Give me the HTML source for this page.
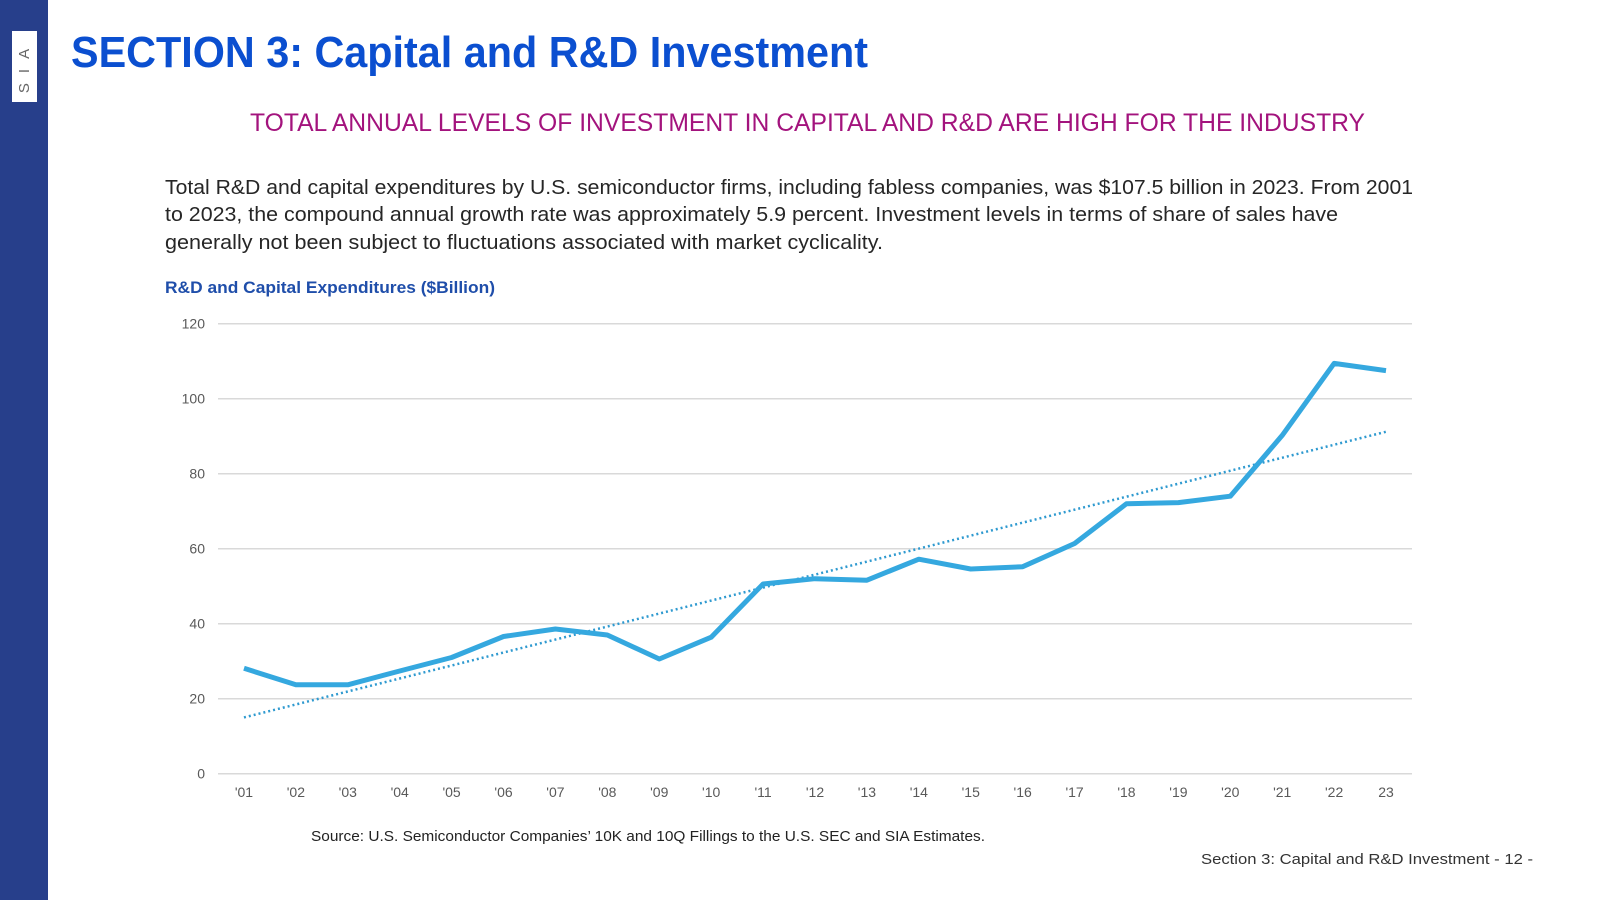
<!DOCTYPE html>
<html><head><meta charset="utf-8"><style>
html,body{margin:0;padding:0;background:#fff;}
svg{display:block;font-family:"Liberation Sans",sans-serif;}
</style></head><body>
<svg id="page" width="1600" height="900" viewBox="0 0 1600 900">
  <rect x="0" y="0" width="48" height="900" fill="#273f8b"/>
  <g>
    <rect x="12" y="31" width="25" height="71" fill="#fff"/>
    <text transform="translate(29,66) rotate(-90)" text-anchor="middle" font-size="15" fill="#666" letter-spacing="10">SIA</text>
  </g>
  <text x="71" y="67" font-size="44" font-weight="bold" fill="#0b4fd0" textLength="797" lengthAdjust="spacingAndGlyphs">SECTION 3: Capital and R&amp;D Investment</text>
  <text x="250" y="131" font-size="25" fill="#a3137d" textLength="1115" lengthAdjust="spacingAndGlyphs">TOTAL ANNUAL LEVELS OF INVESTMENT IN CAPITAL AND R&amp;D ARE HIGH FOR THE INDUSTRY</text>
  <g font-size="20" fill="#262626">
    <text x="165" y="194" textLength="1248" lengthAdjust="spacingAndGlyphs">Total R&amp;D and capital expenditures by U.S. semiconductor firms, including fabless companies, was $107.5 billion in 2023. From 2001</text>
    <text x="165" y="221" textLength="1173" lengthAdjust="spacingAndGlyphs">to 2023, the compound annual growth rate was approximately 5.9 percent. Investment levels in terms of share of sales have</text>
    <text x="165" y="249" textLength="718" lengthAdjust="spacingAndGlyphs">generally not been subject to fluctuations associated with market cyclicality.</text>
  </g>
  <text x="165" y="293" font-size="17" font-weight="bold" fill="#1f4eaa" textLength="330" lengthAdjust="spacingAndGlyphs">R&amp;D and Capital Expenditures ($Billion)</text>
  <g id="chart"></g>
  <text x="311" y="841" font-size="15" fill="#222" textLength="674" lengthAdjust="spacingAndGlyphs">Source: U.S. Semiconductor Companies’ 10K and 10Q Fillings to the U.S. SEC and SIA Estimates.</text>
  <text x="1201" y="864" font-size="15" fill="#333" textLength="332" lengthAdjust="spacingAndGlyphs">Section 3: Capital and R&amp;D Investment  - 12 -</text>
</svg>
<script>
const categories = ["'01","'02","'03","'04","'05","'06","'07","'08","'09","'10","'11","'12","'13","'14","'15","'16","'17","'18","'19","'20","'21","'22","23"];
const values = [28.1,23.7,23.7,27.4,31.0,36.6,38.6,37.0,30.6,36.4,50.6,52.0,51.6,57.2,54.6,55.2,61.4,72.0,72.3,74.0,90.2,109.4,107.5];
const yTicks = [0,20,40,60,80,100,120];

const NS = "http://www.w3.org/2000/svg";
const g = document.getElementById('chart');
const L = 218, R = 1412, T = 323.7, B = 773.7, yMax = 120;
const band = (R - L) / categories.length;
function xPos(i){ return L + band * (i + 0.5); }
function yPos(v){ return B - (v / yMax) * (B - T); }
function mk(tag, attrs){ const e = document.createElementNS(NS, tag); for (const k in attrs) e.setAttribute(k, attrs[k]); g.appendChild(e); return e; }

yTicks.forEach(t => {
  const ln = mk('line', {x1:L, x2:R, y1:yPos(t), y2:yPos(t), stroke:'#d9d9d9', 'stroke-width':1.5});
  
  
  const tx = mk('text', {x:205, y:yPos(t)+5, 'text-anchor':'end', 'font-size':14, fill:'#595959'});
  tx.textContent = t;
  
  
});
categories.forEach((c, i) => {
  const tx = mk('text', {x:xPos(i), y:797, 'text-anchor':'middle', 'font-size':14, fill:'#595959'});
  tx.textContent = c;
  
  
});

// linear trendline from data
const n = values.length;
let sx=0, sy=0, sxy=0, sxx=0;
values.forEach((v,i)=>{ sx+=i; sy+=v; sxy+=i*v; sxx+=i*i; });
const slope = (n*sxy - sx*sy) / (n*sxx - sx*sx);
const icpt = (sy - slope*sx) / n;
const trend = mk('line', {x1:xPos(0), y1:yPos(icpt), x2:xPos(n-1), y2:yPos(icpt+slope*(n-1)), stroke:'#2f9ad0', 'stroke-width':2.5, 'stroke-dasharray':'2 3'});



const pts = values.map((v,i)=> xPos(i).toFixed(1) + ',' + yPos(v).toFixed(1)).join(' ');
const line = mk('polyline', {points:pts, fill:'none', stroke:'#35a8df', 'stroke-width':5, 'stroke-linejoin':'round'});


</script>
</body></html>
